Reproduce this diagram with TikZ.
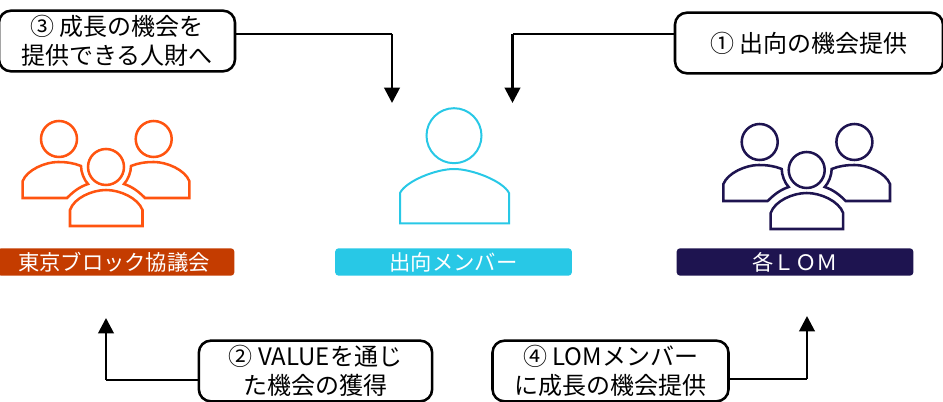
\documentclass[tikz,border=0pt]{standalone}
\usepackage{fontspec}
\setmainfont{Noto Sans CJK JP}
\usetikzlibrary{arrows.meta}
\definecolor{tokyoline}{HTML}{FF5410}
\definecolor{tokyobar}{HTML}{C43C00}
\definecolor{memberc}{HTML}{28C8E6}
\definecolor{lomc}{HTML}{1E1450}

\begin{document}
\begin{tikzpicture}[
	x=0.75pt, y=-0.75pt,
	callout/.style = {draw=black, line width=1.9pt, rounded corners=9pt, fill=white,
		inner sep=0pt, align=center, minimum height=45.5pt,
		font=\fontsize{18}{21.75}\selectfont},
	groupbar/.style = {rounded corners=2.5pt, inner sep=0pt, text=white,
		minimum height=20.5pt, minimum width=177.5pt,
		font=\fontsize{16}{19}\selectfont},
	linkline/.style = {line width=1.2pt},
	linkarrow/.style = {line width=2.1pt, -{Triangle[width=11.5pt,length=11.5pt]}},
	pics/people/.style = {code = {
		\draw [#1, line width=1.9pt, miter limit=2]
			(59,139) circle [radius=18]
			(153.7,139) circle [radius=18]
			(106,167) circle [radius=18]
			(70,226) -- (70,210) .. controls (74,198) and (92,190) .. (106,190)
			.. controls (120,190) and (138,198) .. (142.5,210) -- (142.5,226) -- cycle
			(22.7,198) -- (22.7,181) .. controls (27,170) and (45,162) .. (58,162)
			.. controls (66,162) and (74,163) .. (81,166) .. controls (81,172) and (84,180) .. (88,184)
			.. controls (79,187) and (73,192) .. (67,198) -- cycle
			(189.3,198) -- (189.3,181) .. controls (185,170) and (167,162) .. (154,162)
			.. controls (146,162) and (138,163) .. (131,166) .. controls (131,172) and (128,180) .. (124,184)
			.. controls (133,187) and (139,192) .. (145,198) -- cycle;
	}}
	]
	\useasboundingbox (0,0) rectangle (943,402);

	% icons
	\pic at (0,0) {people=tokyoline};
	\pic at (700.7,3) {people=lomc};
	\draw [memberc, line width=1.5pt]
		(454,135.7) circle [radius=27.5]
		(400,223.5) -- (400,193) .. controls (406,181) and (436,169) .. (454,169)
		.. controls (472,169) and (503,181) .. (509,193) -- (509,223.5) -- cycle;

	% groups
	\node [groupbar, fill=tokyobar] (tokyo) at (116,262) {東京ブロック協議会\kern3pt};
	\node [groupbar, fill=memberc] (member) at (453.5,262) {出向メンバー};
	\node [groupbar, fill=lomc] (lom) at (795,262) {各ＬＯＭ};

	% callouts
	\node [callout, minimum width=201pt] (offer) at (809,43) {① 出向の機会提供};
	\node [callout, minimum width=175pt] (value) at (315.5,371) {② VALUEを通じ\\た機会の獲得};
	\node [callout, minimum width=177pt] (talent) at (117,41) {③ 成長の機会を\\提供できる人財へ};
	\node [callout, minimum width=177pt] (growth) at (610.5,371) {④ LOMメンバー\\に成長の機会提供};

	% arrow ends
	\coordinate (talentbend) at (392,34);
	\coordinate (talenttip) at (392,103);
	\coordinate (offerbend) at (512.5,34);
	\coordinate (offertip) at (512.5,103);
	\coordinate (valuebend) at (106,380);
	\coordinate (valuetip) at (106,318);
	\coordinate (growthbend) at (807,379);
	\coordinate (growthtip) at (807,316);

	\draw [linkline] (talent.east |- talentbend) -- (talentbend);
	\draw [linkarrow] (talentbend) -- (talenttip);
	\draw [linkline] (offer.west |- offerbend) -- (offerbend);
	\draw [linkarrow] (offerbend) -- (offertip);
	\draw [linkline] (value.west |- valuebend) -- (valuebend);
	\draw [linkarrow] (valuebend) -- (valuetip);
	\draw [linkline] (growth.east |- growthbend) -- (growthbend);
	\draw [linkarrow] (growthbend) -- (growthtip);
\end{tikzpicture}
\end{document}
